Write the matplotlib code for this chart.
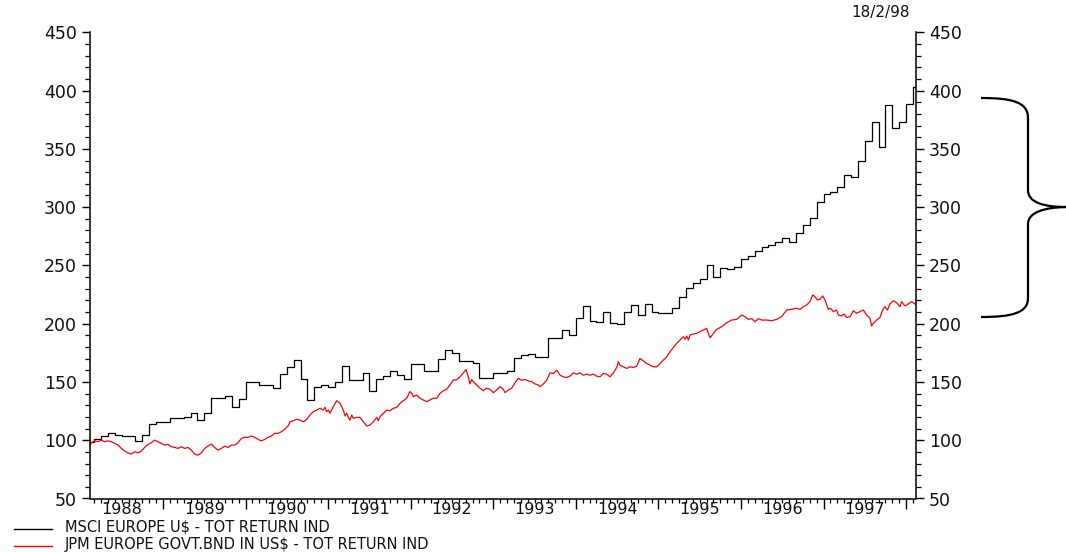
import matplotlib
matplotlib.use("Agg")
import matplotlib.pyplot as plt
from matplotlib.path import Path
from matplotlib.patches import PathPatch
from matplotlib.lines import Line2D
import numpy as np
import pandas as pd

# ---------------- data ----------------
series_labels = ["MSCI EUROPE U$ - TOT RETURN IND",
                 "JPM EUROPE GOVT.BND IN US$ - TOT RETURN IND"]
date_stamp = "18/2/98"
year_labels = [1988, 1989, 1990, 1991, 1992, 1993, 1994, 1995, 1996, 1997]
y_ticks = [50, 100, 150, 200, 250, 300, 350, 400, 450]

# MSCI Europe, monthly levels from Feb 1988 to Feb 1998
msci_start = "1988-02"
msci_values = [
    98.8, 101.3, 103.6, 105.8, 104.4, 103.6, 103.6, 99.5, 104.4, 113.8,
    115.8, 115.8, 119.3, 119.3, 120.2, 123.6, 117.3, 123.0, 136.5, 136.5,
    138.0, 128.8, 135.1, 150.3, 150.3, 147.4, 147.4, 144.5, 156.4, 163.0,
    169.1, 152.3, 134.5, 146.0, 147.4, 145.4, 149.8, 163.6, 151.8, 151.8,
    157.8, 142.3, 152.3, 155.0, 159.0, 155.8, 152.6, 165.0, 165.2, 159.3,
    159.3, 169.3, 177.3, 175.0, 168.1, 168.1, 165.9, 153.6, 153.6, 157.8,
    157.8, 159.6, 170.2, 173.0, 173.9, 171.6, 171.6, 187.4, 187.4, 194.6,
    190.2, 204.6, 215.2, 202.6, 201.6, 210.3, 200.3, 199.4, 210.3, 216.0,
    207.4, 216.9, 210.3, 208.9, 209.4, 213.2, 223.2, 230.4, 234.6, 238.1,
    250.3, 240.4, 247.6, 246.7, 248.4, 255.9, 257.9, 262.5, 265.9, 267.9,
    270.3, 273.7, 270.3, 278.0, 284.3, 290.3, 304.6, 311.0, 313.3, 317.5,
    327.6, 325.6, 339.6, 356.9, 373.1, 351.9, 387.3, 367.6, 373.1, 388.4,
    402.8,
]
msci_end = 1998.12

# JPM Europe government bonds (decimal-year dates, values)
jpm_dates = [
    1988.116, 1988.132, 1988.173, 1988.213, 1988.253, 1988.294, 1988.334, 1988.374, 1988.415, 1988.455,
    1988.495, 1988.536, 1988.576, 1988.617, 1988.657, 1988.697, 1988.738, 1988.778, 1988.819, 1988.859,
    1988.899, 1988.940, 1988.980, 1989.020, 1989.061, 1989.101, 1989.142, 1989.182, 1989.222, 1989.263,
    1989.303, 1989.343, 1989.384, 1989.424, 1989.465, 1989.505, 1989.545, 1989.586, 1989.626, 1989.666,
    1989.707, 1989.747, 1989.788, 1989.828, 1989.868, 1989.909, 1989.949, 1989.989, 1990.030, 1990.070,
    1990.111, 1990.151, 1990.191, 1990.232, 1990.272, 1990.312, 1990.353, 1990.393, 1990.434, 1990.474,
    1990.514,
    1990.539, 1990.579, 1990.619, 1990.660, 1990.700, 1990.740, 1990.781, 1990.821, 1990.862, 1990.902,
    1990.942, 1990.962, 1990.983, 1991.003, 1991.023, 1991.063, 1991.104, 1991.144, 1991.184, 1991.205,
    1991.225, 1991.245, 1991.265, 1991.286, 1991.306, 1991.346, 1991.386, 1991.427, 1991.467, 1991.507,
    1991.548, 1991.588, 1991.608, 1991.628, 1991.669, 1991.709, 1991.749, 1991.790, 1991.830, 1991.870,
    1991.911, 1991.951, 1991.992, 1992.012, 1992.032, 1992.072, 1992.113, 1992.153, 1992.194, 1992.234,
    1992.274, 1992.315, 1992.355, 1992.395, 1992.436, 1992.476, 1992.517, 1992.557, 1992.597, 1992.638,
    1992.670, 1992.698, 1992.718, 1992.739, 1992.759, 1992.799, 1992.840, 1992.880, 1992.920, 1992.961,
    1993.001, 1993.041, 1993.082,
    1993.122, 1993.143, 1993.183, 1993.223, 1993.264, 1993.304, 1993.344, 1993.385, 1993.425, 1993.466,
    1993.506, 1993.546, 1993.567, 1993.607, 1993.647, 1993.688, 1993.728, 1993.768, 1993.809, 1993.849,
    1993.889, 1993.930, 1993.970, 1994.011, 1994.051, 1994.091, 1994.132, 1994.172, 1994.212, 1994.253,
    1994.293, 1994.333, 1994.374, 1994.414, 1994.455, 1994.495, 1994.515, 1994.535, 1994.576, 1994.616,
    1994.656, 1994.697, 1994.737, 1994.778, 1994.818, 1994.858, 1994.899, 1994.939, 1994.980, 1995.020,
    1995.060, 1995.101, 1995.141, 1995.181, 1995.222, 1995.262, 1995.302, 1995.323, 1995.343, 1995.363,
    1995.383, 1995.424, 1995.464, 1995.504, 1995.545, 1995.585, 1995.605, 1995.626,
    1995.706, 1995.767, 1995.828, 1995.888, 1995.949, 1996.009, 1996.049, 1996.090, 1996.130, 1996.171,
    1996.211, 1996.251, 1996.312, 1996.372, 1996.433, 1996.493, 1996.554, 1996.614, 1996.675, 1996.715,
    1996.755, 1996.796, 1996.836, 1996.868, 1996.897, 1996.925, 1996.957, 1996.990, 1997.018, 1997.058,
    1997.086, 1997.119, 1997.159, 1997.179, 1997.220, 1997.248, 1997.280, 1997.321, 1997.361, 1997.401,
    1997.442, 1997.482, 1997.522, 1997.563, 1997.583, 1997.603, 1997.644, 1997.684, 1997.716, 1997.744,
    1997.773, 1997.805, 1997.845, 1997.885, 1997.926, 1997.946, 1997.986, 1998.026, 1998.067, 1998.107,
]
jpm_values = [
    95.0, 97.8, 99.5, 98.7, 100.1, 98.7, 99.5, 98.7, 97.3, 95.8,
    93.0, 90.7, 89.2, 88.1, 90.1, 89.2, 90.7, 93.8, 96.4, 97.8,
    100.1, 98.7, 97.3, 95.8, 96.4, 94.4, 93.8, 93.0, 94.4, 93.0,
    93.8, 91.5, 88.1, 87.2, 89.2, 93.0, 95.0, 96.7, 93.8, 91.5,
    93.0, 95.0, 93.8, 95.8, 95.8, 97.8, 101.6, 102.5, 102.5, 103.6,
    102.5, 100.7, 99.5, 100.7, 102.5, 103.6, 105.9, 105.9, 107.3, 109.3,
    112.2,
    115.8, 116.7, 117.9, 117.3, 115.8, 117.9, 121.6, 124.5, 125.9, 127.4,
    125.9, 128.2, 124.5, 125.9, 123.1, 128.8, 133.9, 131.7, 125.9, 120.8,
    123.1, 119.6, 117.3, 121.6, 118.8, 119.6, 119.6, 115.8, 112.2, 113.0,
    115.8, 119.6, 116.7, 120.2, 123.1, 125.9, 125.3, 127.4, 128.2, 131.7,
    133.9, 136.0, 141.7, 140.3, 137.4, 138.8, 136.0, 134.5, 133.1, 134.5,
    136.0, 136.0, 140.3, 142.5, 143.7, 147.4, 151.7, 151.7, 154.4, 157.8,
    160.7, 154.4, 148.3, 152.1, 150.1, 147.4, 144.6, 142.5, 144.6, 143.7,
    140.8, 143.1, 146.0,
    143.7, 140.8, 143.1, 144.6, 149.4, 153.0, 151.5, 152.1, 150.9, 150.1,
    148.3, 147.4, 146.0, 148.3, 151.5, 157.8, 157.3, 160.1, 155.8, 154.4,
    153.8, 155.0, 157.8, 156.7, 157.8, 155.8, 156.7, 155.8, 156.7, 155.0,
    154.4, 157.3, 156.7, 154.4, 157.8, 162.4, 167.3, 164.4, 163.0, 161.6,
    163.0, 162.4, 163.6, 170.2, 168.1, 165.9, 164.4, 163.0, 163.0, 165.9,
    168.7, 171.6, 175.9, 179.6, 183.1, 185.9, 188.8, 186.6, 189.4, 185.9,
    190.2, 191.1, 191.7, 193.1, 194.6, 196.0, 191.7, 188.0,
    195.1, 197.4, 200.8, 203.1, 203.7, 207.4, 206.0, 203.7, 204.3, 201.7,
    204.3, 203.1, 203.1, 202.5, 203.7, 206.0, 211.7, 212.3, 213.2, 212.3,
    214.6, 216.0, 218.9, 224.6, 223.2, 220.3, 221.0, 223.8, 220.3, 212.3,
    213.2, 210.3, 211.7, 207.4, 206.6, 208.3, 205.4, 206.0, 211.1, 208.9,
    210.3, 211.7, 207.4, 204.6, 198.0, 200.3, 203.1, 205.4, 211.7, 214.6,
    211.7, 216.9, 219.7, 218.0, 214.6, 218.9, 215.2, 216.9, 218.9, 216.9,
]

# ---------------- figure ----------------
W, H = 1066, 552
plt.rcParams["font.family"] = ["DejaVu Sans"]
fig = plt.figure(figsize=(W / 100, H / 100), dpi=100)
ax_left, ax_right, ax_top, ax_bottom = 90, 916, 32.3, 498.5
ax = fig.add_axes([ax_left / W, 1 - ax_bottom / H,
                   (ax_right - ax_left) / W, (ax_bottom - ax_top) / H])

periods = pd.period_range(msci_start, periods=len(msci_values), freq="M")
mx = np.array([p.year + (p.month - 1) / 12 for p in periods] + [msci_end])
my = np.array(msci_values + [msci_values[-1]])
ax.step(mx, my, where="post", color="black", lw=0.9)
ax.plot(jpm_dates, jpm_values, color="red", lw=0.9)

ax.set_xlim(1988.116, 1998.12)
ax.set_ylim(50, 450)

# x ticks: year boundaries (major), months (minor)
ax.set_xticks(np.arange(1989, 1999))
ax.set_xticks(np.arange(1988 + 2 / 12, 1998.12, 1 / 12), minor=True)
ax.set_xticklabels([])
ax.tick_params(axis="x", which="major", length=7.2, width=1.0, direction="out")
ax.tick_params(axis="x", which="minor", length=2.6, width=0.9, direction="out")

# y ticks on both sides
ax.set_yticks(y_ticks)
ax.set_yticks(np.arange(50, 451, 10), minor=True)
ax.tick_params(axis="y", which="both", left=True, right=True,
               labelleft=True, labelright=True, direction="out")
ax.tick_params(axis="y", which="major", length=5.8, width=1.0, pad=3.5,
               labelsize=12.5, labelcolor="#111111")
ax.tick_params(axis="y", which="minor", length=3.6, width=0.9)

for s in ["left", "right", "bottom"]:
    ax.spines[s].set_linewidth(1.1)
ax.spines["top"].set_visible(False)

# year labels centred between year ticks
year_y = -(509.0 - ax_bottom) / (ax_bottom - ax_top)
for yr in year_labels:
    ax.text(yr + 0.5, year_y, str(yr), transform=ax.get_xaxis_transform(),
            ha="center", va="center", fontsize=11.5, color="#111111")

# date stamp
fig.text(910 / W, 1 - 12 / H, date_stamp, ha="right", va="center",
         fontsize=11, color="#111111")

# legend below the chart
leg_colors = ["black", "red"]
leg_line_y = [528.5, 545.5]
leg_text_y = [527.0, 544.0]
for lab, col, ly, ty in zip(series_labels, leg_colors, leg_line_y, leg_text_y):
    fig.add_artist(Line2D([14 / W, 52 / W], [1 - ly / H, 1 - ly / H],
                          color=col, lw=1.0, transform=fig.transFigure))
    fig.text(65 / W, 1 - ty / H, lab, ha="left", va="center",
             fontsize=10.5, color="#111111")

# curly brace at right
verts = [(981, 98), (1012, 98), (1028, 102), (1028, 118),
         (1028, 190),
         (1028, 203), (1045, 207), (1066, 207),
         (1045, 207.5), (1028, 212), (1028, 224),
         (1028, 298),
         (1028, 313), (1012, 317), (981, 317)]
codes = [Path.MOVETO, Path.CURVE4, Path.CURVE4, Path.CURVE4,
         Path.LINETO,
         Path.CURVE4, Path.CURVE4, Path.CURVE4,
         Path.CURVE4, Path.CURVE4, Path.CURVE4,
         Path.LINETO,
         Path.CURVE4, Path.CURVE4, Path.CURVE4]
verts_fig = [(x / W, 1 - y / H) for x, y in verts]
brace = PathPatch(Path(verts_fig, codes), fill=False, lw=1.6, color="black",
                  transform=fig.transFigure, clip_on=False)
fig.add_artist(brace)

fig.savefig("out.png", dpi=100)
